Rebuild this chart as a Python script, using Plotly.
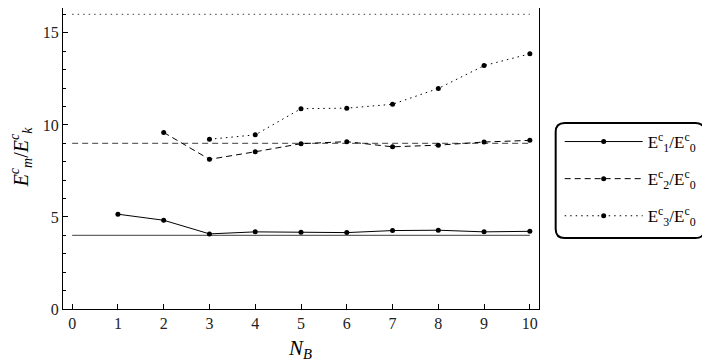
import plotly.graph_objects as go

nb = [1, 2, 3, 4, 5, 6, 7, 8, 9, 10]
e1 = [5.15, 4.82, 4.08, 4.19, 4.17, 4.15, 4.26, 4.28, 4.19, 4.22]
e2_x = [2, 3, 4, 5, 6, 7, 8, 9, 10]
e2 = [9.59, 8.13, 8.54, 8.98, 9.09, 8.81, 8.90, 9.07, 9.16]
e3_x = [3, 4, 5, 6, 7, 8, 9, 10]
e3 = [9.22, 9.46, 10.88, 10.91, 11.12, 11.98, 13.22, 13.86]
ref_x = [0, 10]
ref1 = [4, 4]
ref2 = [9, 9]
ref3 = [16, 16]
names = ["E<sup>c</sup><sub>1</sub>/E<sup>c</sup><sub>0</sub>",
         "E<sup>c</sup><sub>2</sub>/E<sup>c</sup><sub>0</sub>",
         "E<sup>c</sup><sub>3</sub>/E<sup>c</sup><sub>0</sub>"]
x_title = "<i>N</i><sub><i>B</i></sub>"
y_title = "<i>E</i><sup><i>c</i></sup><sub><i>m</i></sub>/<i>E</i><sup><i>c</i></sup><sub><i>k</i></sub>"

FONT = "Liberation Serif, Times New Roman, serif"
dashes = ["solid", "6px,4px", "1.5px,4px"]

# page body has an 8px margin: shift everything by OFF
OFF = 8
FW, FH = 710 - OFF, 363 - OFF

fig = go.Figure()
for ry, d in zip([ref1, ref2, ref3], dashes):
    fig.add_trace(go.Scatter(x=ref_x, y=ry, mode="lines", showlegend=False,
                             line=dict(color="#666666", width=1.2, dash=d), hoverinfo="skip"))

for i, (xs, ys) in enumerate([(nb, e1), (e2_x, e2), (e3_x, e3)]):
    fig.add_trace(go.Scatter(x=xs, y=ys, mode="lines+markers", name=names[i],
                             legendgroup=f"g{i}",
                             line=dict(color="black", width=1, dash=dashes[i]),
                             marker=dict(color="black", size=5)))

L, R, T, B = 62.7 - OFF, 539.3 - OFF, 4, 309 - OFF
T = max(T - OFF, 0)
W, H = R - L, B - T
def px(xp): return (xp - OFF - L) / W
def py(yp): return (B - (yp - OFF)) / H

x0, x1, y0, y1 = px(556), px(705), py(238), py(123)
rx, ry_ = 9 / W, 9 / H
path = (f"M{x0+rx},{y1} L{x1-rx},{y1} Q{x1},{y1} {x1},{y1-ry_} "
        f"L{x1},{y0+ry_} Q{x1},{y0} {x1-rx},{y0} L{x0+rx},{y0} "
        f"Q{x0},{y0} {x0},{y0+ry_} L{x0},{y1-ry_} Q{x0},{y1} {x0+rx},{y1} Z")
fig.add_shape(type="path", path=path, xref="paper", yref="paper",
              line=dict(color="black", width=2), fillcolor="white", layer="below")

fig.add_annotation(text=x_title, xref="paper", yref="paper", x=px(300), y=py(349),
                   xanchor="center", yanchor="middle", showarrow=False,
                   font=dict(family=FONT, size=21, color="black"))
fig.add_annotation(text=y_title, xref="paper", yref="paper", x=px(21), y=py(157),
                   xanchor="center", yanchor="middle", showarrow=False, textangle=-90,
                   font=dict(family=FONT, size=20, color="black"))

fig.update_layout(
    width=FW, height=FH,
    margin=dict(l=L, r=FW - R, t=T, b=FH - B, autoexpand=False),
    paper_bgcolor="white", plot_bgcolor="white",
    font=dict(family=FONT, color="black", size=15),
    showlegend=True,
    legend=dict(x=px(560), y=py(124), xanchor="left", yanchor="top",
                bgcolor="rgba(0,0,0,0)", borderwidth=0,
                font=dict(family=FONT, size=17, color="black"),
                itemwidth=78, tracegroupgap=12),
    xaxis=dict(range=[-0.2, 10.2], tickvals=list(range(0, 11)),
               ticks="inside", ticklen=5, tickcolor="black",
               showline=True, linecolor="black", linewidth=1, mirror=True,
               showgrid=False, zeroline=False, automargin=False,
               tickfont=dict(family=FONT, size=16, color="#222")),
    yaxis=dict(range=[0, 16.35], tickvals=[0, 5, 10, 15],
               ticks="inside", ticklen=5, tickcolor="black",
               minor=dict(dtick=1, ticks="inside", ticklen=3, tickcolor="black"),
               showline=True, linecolor="black", linewidth=1, mirror=True,
               showgrid=False, zeroline=False, automargin=False,
               tickfont=dict(family=FONT, size=16, color="#222")),
)

fig.write_html("out.html")
